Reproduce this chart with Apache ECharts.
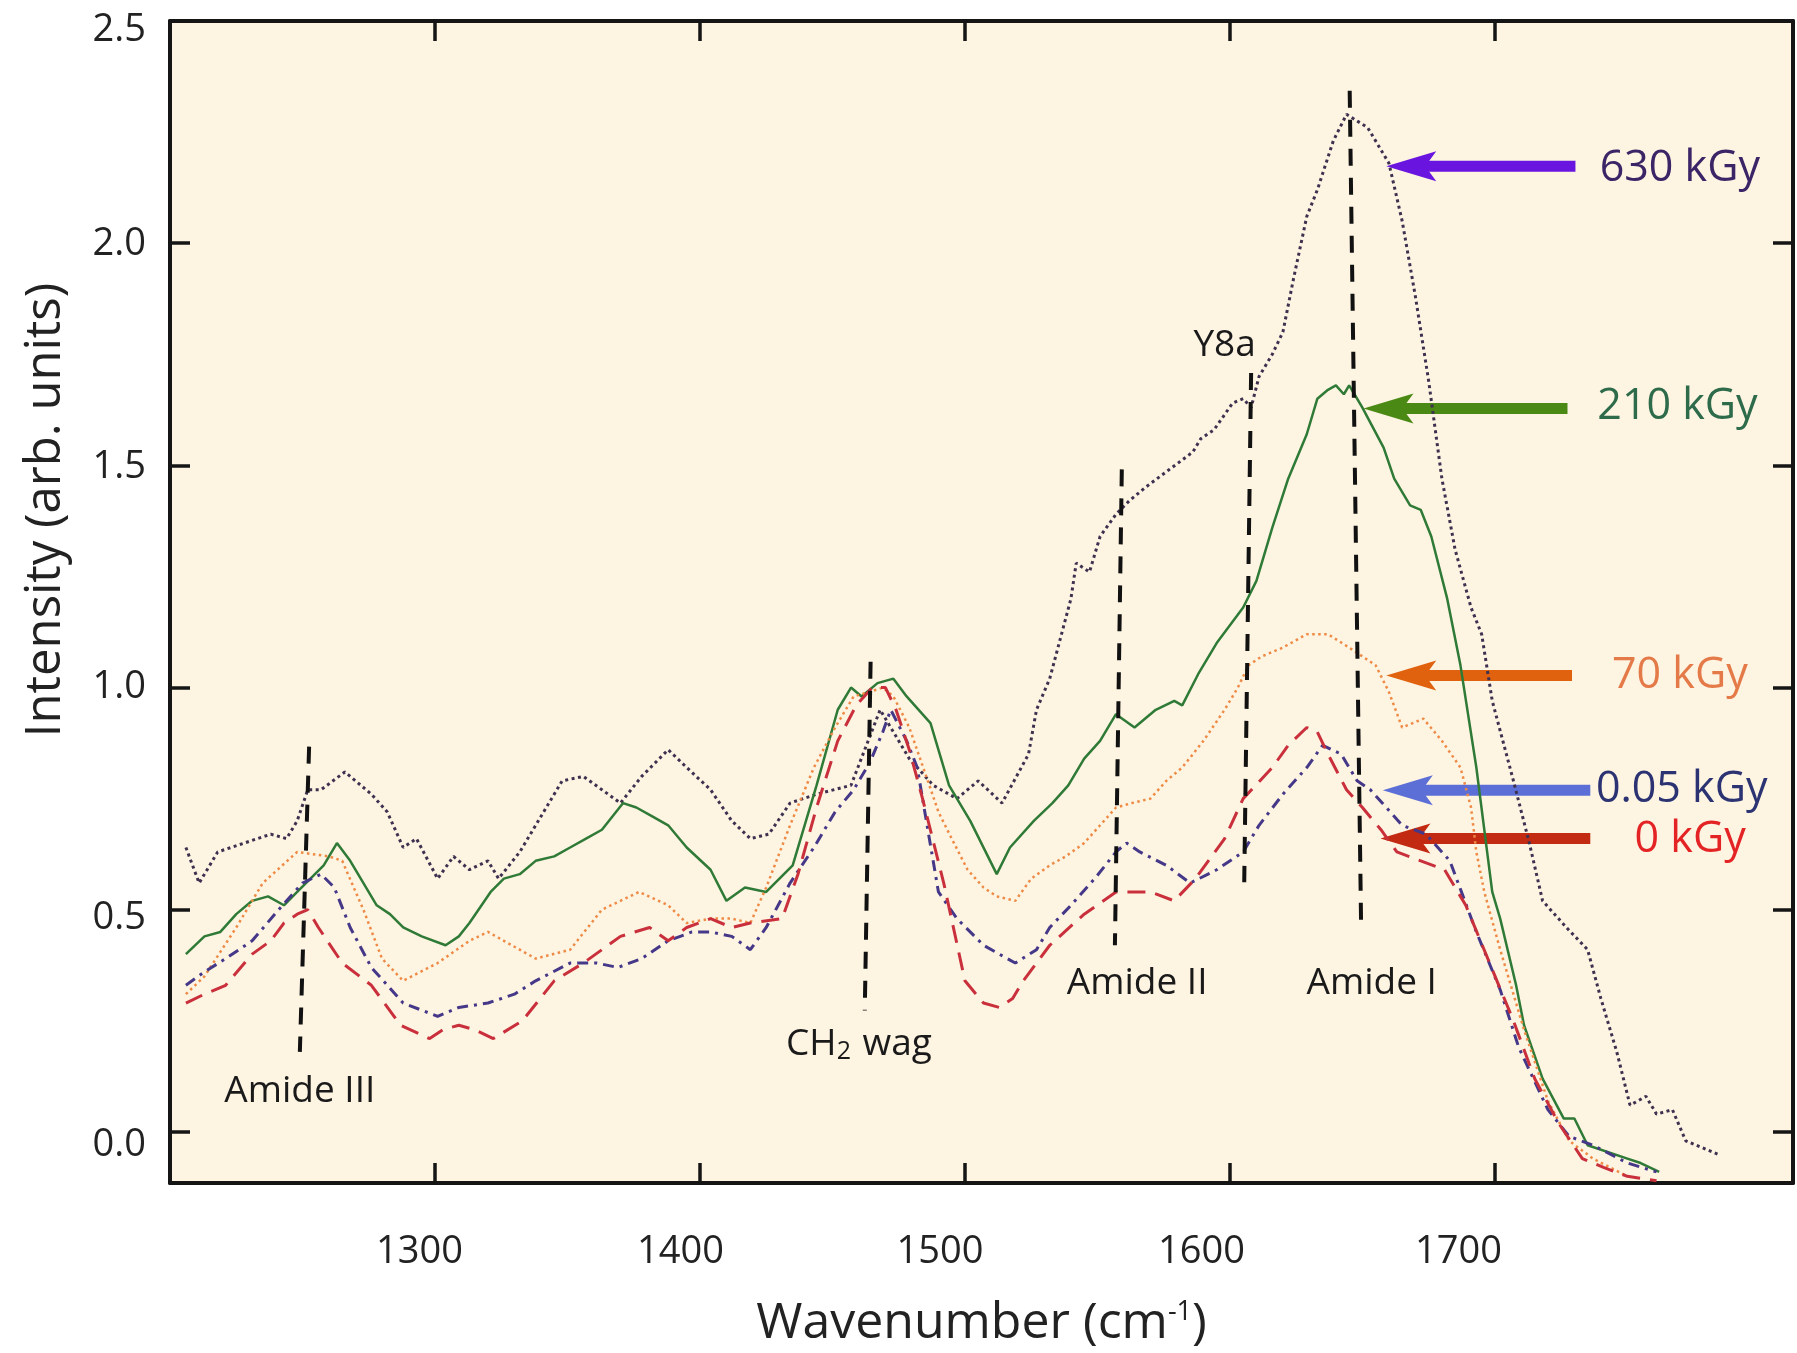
<!DOCTYPE html>
<html>
<head>
<meta charset="utf-8">
<script src="https://cdn.jsdelivr.net/npm/echarts@6/dist/echarts.min.js"></script>
<style>
  html, body { margin: 0; padding: 0; background: #ffffff; }
  #main { width: 1797px; height: 1353px; }
</style>
</head>
<body>
<div id="main"></div>
<script>
// Raman spectra, [wavenumber (cm-1), intensity (arb. units)]
var spec630 = [
  [1206,0.64],[1211,0.56],[1218,0.63],[1228,0.65],[1238,0.67],[1244,0.66],[1248,0.70],[1252,0.77],[1257,0.77],[1266,0.81],
  [1276,0.76],[1282,0.72],[1288,0.64],[1293,0.66],[1301,0.57],[1307,0.62],[1313,0.59],[1320,0.61],[1324,0.57],[1332,0.63],
  [1341,0.72],[1348,0.79],[1356,0.80],[1363,0.77],[1370,0.74],[1378,0.80],[1388,0.86],[1395,0.82],[1404,0.77],[1412,0.70],
  [1419,0.66],[1426,0.67],[1434,0.74],[1444,0.76],[1457,0.78],[1468,0.95],[1479,0.84],[1488,0.78],[1497,0.75],[1505,0.79],
  [1514,0.74],[1524,0.85],[1527,0.95],[1532,1.02],[1540,1.20],[1542,1.28],[1547,1.26],[1551,1.34],[1557,1.39],[1562,1.42],
  [1568,1.45],[1577,1.49],[1586,1.53],[1589,1.56],[1594,1.58],[1601,1.64],[1605,1.65],[1608,1.63],[1611,1.70],[1616,1.75],
  [1620,1.80],[1624,1.92],[1629,2.06],[1633,2.12],[1639,2.23],[1644,2.29],[1652,2.26],[1660,2.18],[1665,2.05],[1670,1.88],
  [1675,1.69],[1680,1.47],[1685,1.31],[1691,1.18],[1695,1.12],[1699,0.97],[1707,0.79],[1713,0.65],[1718,0.52],[1727,0.46],
  [1735,0.41],[1740,0.30],[1746,0.18],[1751,0.06],[1757,0.08],[1761,0.04],[1767,0.05],[1772,-0.02],[1784,-0.05]
];
var spec210 = [
  [1206,0.40],[1213,0.44],[1219,0.45],[1225,0.49],[1231,0.52],[1237,0.53],[1243,0.51],[1248,0.54],[1253,0.57],[1258,0.60],
  [1263,0.65],[1268,0.61],[1273,0.56],[1278,0.51],[1283,0.49],[1288,0.46],[1295,0.44],[1304,0.42],[1309,0.44],[1313,0.47],
  [1321,0.54],[1326,0.57],[1332,0.58],[1338,0.61],[1345,0.62],[1351,0.64],[1357,0.66],[1363,0.68],[1371,0.74],[1376,0.73],
  [1382,0.71],[1388,0.69],[1395,0.64],[1404,0.59],[1410,0.52],[1417,0.55],[1425,0.54],[1435,0.60],[1444,0.78],[1452,0.95],
  [1457,1.00],[1461,0.98],[1467,1.01],[1473,1.02],[1478,0.98],[1487,0.92],[1494,0.78],[1502,0.70],[1512,0.58],[1517,0.64],
  [1526,0.70],[1533,0.74],[1539,0.78],[1545,0.84],[1551,0.88],[1557,0.94],[1564,0.91],[1572,0.95],[1579,0.97],[1582,0.96],
  [1588,1.03],[1595,1.10],[1605,1.18],[1610,1.24],[1616,1.36],[1622,1.47],[1629,1.57],[1633,1.65],[1637,1.67],[1640,1.68],
  [1643,1.66],[1645,1.68],[1647,1.66],[1650,1.63],[1658,1.54],[1662,1.47],[1668,1.41],[1672,1.40],[1676,1.34],[1682,1.20],
  [1687,1.05],[1693,0.82],[1699,0.54],[1702,0.48],[1708,0.33],[1711,0.24],[1718,0.12],[1726,0.03],[1730,0.03],[1735,-0.03],
  [1750,-0.06],[1755,-0.07],[1762,-0.09]
];
var spec70 = [
  [1206,0.31],[1213,0.35],[1225,0.46],[1235,0.56],[1248,0.63],[1260,0.62],[1265,0.61],[1273,0.50],[1280,0.39],[1288,0.34],
  [1301,0.38],[1313,0.43],[1320,0.45],[1326,0.43],[1338,0.39],[1351,0.41],[1363,0.50],[1377,0.54],[1388,0.51],[1395,0.47],
  [1404,0.48],[1412,0.48],[1419,0.47],[1425,0.55],[1434,0.69],[1443,0.82],[1451,0.91],[1458,0.98],[1464,0.99],[1469,1.00],
  [1473,0.98],[1479,0.91],[1486,0.79],[1490,0.72],[1495,0.66],[1501,0.59],[1507,0.55],[1512,0.53],[1519,0.52],[1525,0.57],
  [1532,0.60],[1538,0.62],[1545,0.65],[1551,0.69],[1557,0.73],[1563,0.74],[1570,0.75],[1576,0.79],[1582,0.82],[1590,0.88],
  [1598,0.95],[1603,1.00],[1607,1.05],[1612,1.07],[1620,1.09],[1629,1.12],[1637,1.12],[1645,1.09],[1655,1.05],[1660,0.99],
  [1665,0.91],[1673,0.93],[1680,0.88],[1687,0.82],[1691,0.73],[1693,0.63],[1696,0.54],[1702,0.41],[1711,0.23],[1720,0.07],
  [1728,-0.02],[1737,-0.06],[1750,-0.10]
];
var spec005 = [
  [1206,0.33],[1213,0.36],[1221,0.39],[1231,0.43],[1241,0.50],[1250,0.56],[1257,0.58],[1262,0.55],[1268,0.46],[1276,0.37],
  [1288,0.29],[1301,0.26],[1309,0.28],[1320,0.29],[1330,0.31],[1338,0.34],[1351,0.38],[1361,0.38],[1369,0.37],[1378,0.39],
  [1388,0.43],[1397,0.45],[1404,0.45],[1412,0.44],[1419,0.41],[1425,0.46],[1434,0.56],[1443,0.64],[1451,0.72],[1458,0.77],
  [1464,0.83],[1469,0.90],[1472,0.95],[1478,0.88],[1482,0.82],[1490,0.54],[1497,0.48],[1507,0.42],[1519,0.38],[1527,0.41],
  [1532,0.46],[1540,0.51],[1549,0.57],[1557,0.63],[1561,0.65],[1566,0.63],[1576,0.60],[1585,0.56],[1595,0.59],[1605,0.63],
  [1611,0.69],[1620,0.76],[1629,0.82],[1635,0.87],[1642,0.85],[1648,0.79],[1653,0.77],[1659,0.73],[1665,0.69],[1674,0.67],
  [1683,0.61],[1693,0.45],[1702,0.32],[1709,0.19],[1720,0.05],[1728,-0.01],[1737,-0.03],[1750,-0.07],[1761,-0.09]
];
var spec0 = [
  [1206,0.29],[1213,0.31],[1221,0.33],[1231,0.40],[1238,0.43],[1243,0.47],[1248,0.49],[1252,0.50],[1256,0.46],[1265,0.38],
  [1276,0.33],[1287,0.24],[1298,0.21],[1303,0.23],[1309,0.24],[1315,0.23],[1322,0.21],[1333,0.25],[1345,0.34],[1356,0.38],
  [1370,0.44],[1381,0.46],[1388,0.43],[1395,0.46],[1404,0.48],[1412,0.46],[1419,0.47],[1431,0.48],[1437,0.58],[1444,0.73],
  [1452,0.88],[1459,0.96],[1465,1.00],[1470,1.00],[1474,0.95],[1479,0.86],[1484,0.75],[1492,0.56],[1500,0.34],[1507,0.29],
  [1513,0.28],[1518,0.30],[1522,0.34],[1532,0.42],[1545,0.49],[1557,0.54],[1570,0.54],[1579,0.52],[1587,0.57],[1598,0.66],
  [1605,0.75],[1616,0.82],[1622,0.87],[1629,0.91],[1633,0.90],[1637,0.85],[1644,0.77],[1650,0.73],[1657,0.68],[1663,0.63],
  [1672,0.61],[1681,0.59],[1689,0.51],[1698,0.38],[1707,0.25],[1715,0.12],[1724,0.02],[1733,-0.06],[1741,-0.08],[1750,-0.10],
  [1761,-0.11]
];

var doseNames = ['630 kGy', '210 kGy', '70 kGy', '0.05 kGy', '0 kGy'];
var doseSpectra = [spec630, spec210, spec70, spec005, spec0];

// arrow from tail to tip at height arrowY, dose label centred at (labelX, labelY)
var arrowTail = [1730.4, 1727.4, 1729.1, 1736.0, 1736.0];
var arrowTip = [1659.0, 1650.4, 1659.0, 1657.7, 1656.8];
var arrowY = [2.173, 1.628, 1.027, 0.769, 0.660];
var labelX = [1769.8, 1768.9, 1769.8, 1770.5, 1773.7];
var labelY = [2.168, 1.633, 1.027, 0.769, 0.658];

// band assignments: dashed marker from top to bottom point, label centre
var peakNames = ['Amide III', 'CH{s|2} wag', 'Amide II', 'Y8a', 'Amide I'];
var peakTopX = [1252.5, 1464.4, 1559.2, 1608.0, 1645.2];
var peakTopY = [0.867, 1.058, 1.491, 1.708, 2.343];
var peakBotX = [1249.0, 1462.2, 1556.6, 1605.4, 1649.5];
var peakBotY = [0.180, 0.273, 0.420, 0.562, 0.469];
var peakLabelX = [1249.0, 1460.0, 1565.0, 1598.0, 1653.5];
var peakLabelY = [0.092, 0.196, 0.335, 1.770, 0.335];

var xTicks = [1300, 1400, 1500, 1600, 1700];
var yTicks = [0, 0.5, 1.0, 1.5, 2.0, 2.5];

var FONT = '"Open Sans", "Noto Sans", sans-serif';
var lineColors = ['#3e3150', '#2f7a36', '#ef8a45', '#453889', '#c9303c'];
var lineTypes = [[3, 3.5], 'solid', [2.5, 3.5], [11, 6, 3, 6], [18, 10]];
var lineWidths = [3, 2.5, 2.5, 3, 3];
var arrowColors = ['#6a14e0', '#4a8a14', '#e0620e', '#5c6fd6', '#c22a12'];
var labelColors = ['#3b2566', '#2d6b4b', '#e47a48', '#2c3372', '#e42424'];

// the printed tick labels sit a little off their ticks in the original figure
var xLabelShift = [31, 39, 50, 57, 73];
var yLabelShift = [26, 16, 0, 4, 2, 18];

var chart = echarts.init(document.getElementById('main'));

function axisCommon(extra) {
  var o = {
    type: 'value',
    axisLine: { show: true, onZero: false, lineStyle: { color: '#151515', width: 4 } },
    axisTick: { show: true, inside: true, length: 20, lineStyle: { color: '#151515', width: 3.5 } },
    splitLine: { show: false }
  };
  for (var k in extra) o[k] = extra[k];
  return o;
}

var xRich = {}, yRich = {};
xTicks.forEach(function (t, i) {
  xRich['t' + i] = { fontSize: 38, fontFamily: FONT, color: '#222', padding: [0, xLabelShift[i], 0, 0] };
});
yTicks.forEach(function (t, i) {
  yRich['t' + i] = { fontSize: 38, fontFamily: FONT, color: '#222', padding: [yLabelShift[i], 0, 0, 0] };
});

var series = doseSpectra.map(function (d, i) {
  return {
    name: doseNames[i],
    type: 'line',
    data: d,
    showSymbol: false,
    z: 3,
    lineStyle: { color: lineColors[i], width: lineWidths[i], type: lineTypes[i] },
    animation: false
  };
});

series.push({
  type: 'custom',
  name: 'arrows',
  z: 2,
  animation: false,
  data: doseNames.map(function (n, i) {
    return [arrowTail[i], arrowTip[i], arrowY[i], labelX[i], labelY[i]];
  }),
  encode: { x: [0, 1, 3], y: [2, 4] },
  renderItem: function (params, api) {
    var i = params.dataIndex;
    var tail = api.coord([api.value(0), api.value(2)]);
    var tip = api.coord([api.value(1), api.value(2)]);
    var lab = api.coord([api.value(3), api.value(4)]);
    var headLen = 50, headHalf = 15, shaft = 11;
    return {
      type: 'group',
      children: [
        { type: 'rect', shape: { x: tip[0] + headLen * 0.7, y: tail[1] - shaft / 2, width: tail[0] - tip[0] - headLen * 0.7, height: shaft },
          style: { fill: arrowColors[i] } },
        { type: 'polygon', shape: { points: [[tip[0], tip[1]], [tip[0] + headLen, tip[1] - headHalf], [tip[0] + headLen * 0.78, tip[1]], [tip[0] + headLen, tip[1] + headHalf]] },
          style: { fill: arrowColors[i] } },
        { type: 'text', x: lab[0], y: lab[1],
          style: { text: doseNames[i], fill: labelColors[i], fontSize: 43, fontFamily: FONT, align: 'center', verticalAlign: 'middle' } }
      ]
    };
  }
});

series.push({
  type: 'custom',
  name: 'bands',
  z: 4,
  animation: false,
  data: peakNames.map(function (n, i) {
    return [peakTopX[i], peakTopY[i], peakBotX[i], peakBotY[i], peakLabelX[i], peakLabelY[i]];
  }),
  encode: { x: [0, 2, 4], y: [1, 3, 5] },
  renderItem: function (params, api) {
    var i = params.dataIndex;
    var top = api.coord([api.value(0), api.value(1)]);
    var bot = api.coord([api.value(2), api.value(3)]);
    var lab = api.coord([api.value(4), api.value(5)]);
    return {
      type: 'group',
      children: [
        { type: 'line', shape: { x1: top[0], y1: top[1], x2: bot[0], y2: bot[1] },
          style: { stroke: '#111111', lineWidth: 4, lineDash: [17, 12] } },
        { type: 'text', x: lab[0], y: lab[1],
          style: { text: peakNames[i], fill: '#1a1a1a', fontSize: 37, fontFamily: FONT, align: 'center', verticalAlign: 'middle',
            rich: { s: { fontSize: 25, fontFamily: FONT, fill: '#1a1a1a', verticalAlign: 'bottom', padding: [14, 2, 0, 0] } } } }
      ]
    };
  }
});

var option = {
  backgroundColor: '#ffffff',
  animation: false,
  grid: { left: 170, right: 4, top: 21, bottom: 170, show: true, backgroundColor: '#fdf4e2', borderWidth: 0,
    containLabel: false, outerBoundsMode: 'none' },
  xAxis: [
    axisCommon({
      position: 'bottom', min: 1200, max: 1812.5,
      axisTick: { show: true, inside: true, length: 20, customValues: xTicks, lineStyle: { color: '#151515', width: 3.5 } },
      axisLabel: { show: true, customValues: xTicks, margin: 50, fontSize: 38, fontFamily: FONT, color: '#222',
        rich: xRich,
        formatter: function (v) { return '{t' + xTicks.indexOf(v) + '|' + v + '}'; } },
      name: 'Wavenumber (cm{sup|-1})',
      nameLocation: 'middle',
      nameGap: 116,
      nameTextStyle: { fontSize: 50, fontFamily: FONT, color: '#222',
        rich: { sup: { fontSize: 27, fontFamily: FONT, color: '#222', verticalAlign: 'top' } } }
    }),
    axisCommon({
      position: 'top', min: 1200, max: 1812.5,
      axisTick: { show: true, inside: true, length: 20, customValues: xTicks, lineStyle: { color: '#151515', width: 3.5 } },
      axisLabel: { show: false }
    })
  ],
  yAxis: [
    axisCommon({
      position: 'left', min: -0.115, max: 2.5,
      axisTick: { show: true, inside: true, length: 20, customValues: yTicks, lineStyle: { color: '#151515', width: 3.5 } },
      axisLabel: { show: true, customValues: yTicks, margin: 24, fontSize: 38, fontFamily: FONT, color: '#222',
        rich: yRich,
        formatter: function (v) { return '{t' + yTicks.indexOf(v) + '|' + v.toFixed(1) + '}'; } }
    }),
    axisCommon({
      position: 'right', min: -0.115, max: 2.5,
      axisTick: { show: true, inside: true, length: 20, customValues: yTicks, lineStyle: { color: '#151515', width: 3.5 } },
      axisLabel: { show: false }
    })
  ],
  graphic: [
    { type: 'text', x: 46, y: 510, rotation: Math.PI / 2,
      style: { text: 'Intensity (arb. units)', fontSize: 49, fontFamily: FONT, fill: '#222', align: 'center', verticalAlign: 'middle' } }
  ],
  series: series
};

chart.setOption(option);
</script>
</body>
</html>
